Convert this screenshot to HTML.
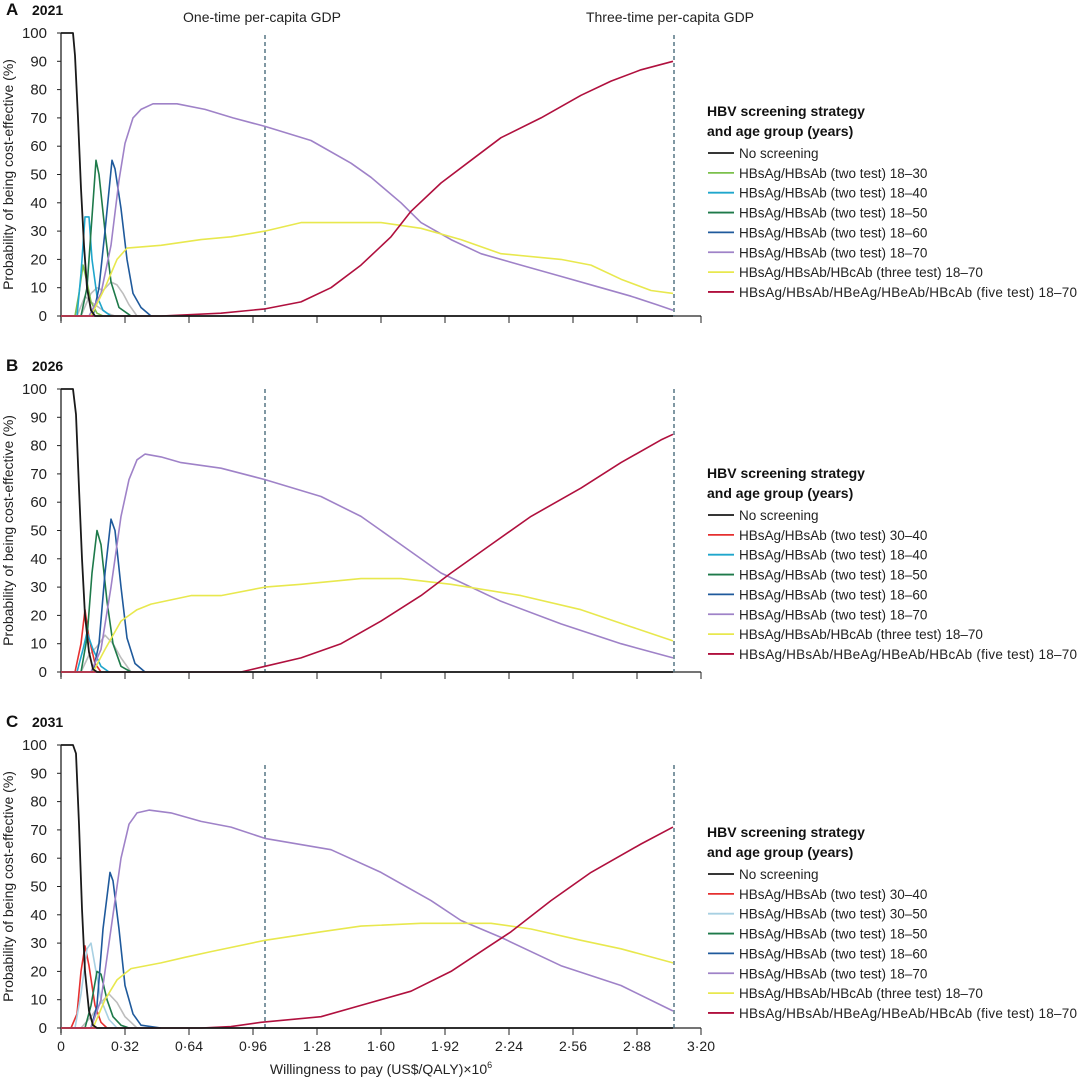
<!DOCTYPE html>
<html><head><meta charset="utf-8"><style>
html,body{margin:0;padding:0;background:#fff;}
svg{display:block;font-family:"Liberation Sans",sans-serif;}
</style></head><body>
<svg id="chart" width="1080" height="1080" viewBox="0 0 1080 1080" xmlns="http://www.w3.org/2000/svg"></svg>
<script>
// ---- data ----
const yTicks = [0,10,20,30,40,50,60,70,80,90,100];
const xTicks = [0,0.32,0.64,0.96,1.28,1.60,1.92,2.24,2.56,2.88,3.20];
const xTickLabels = ["0","0·32","0·64","0·96","1·28","1·60","1·92","2·24","2·56","2·88","3·20"];
const gdpOne = 1.02, gdpThree = 3.065;
const panelLabels = ["A","B","C"];
const panelYears = ["2021","2026","2031"];

// Panel A
const aNoX=[0,0.06,0.07,0.085,0.1,0.115,0.13,0.15,0.17,3.06], aNoY=[100,100,92,70,45,25,10,2,0,0];
const a1830X=[0,0.07,0.09,0.11,0.13,0.15,0.18,0.21], a1830Y=[0,0,8,18,12,5,1,0];
const a1840X=[0,0.08,0.1,0.12,0.14,0.155,0.18,0.21,0.25], a1840Y=[0,0,15,35,35,20,7,2,0];
const a1850X=[0,0.1,0.13,0.15,0.175,0.19,0.22,0.25,0.29,0.35], a1850Y=[0,0,10,30,55,50,30,12,3,0];
const a1860X=[0,0.16,0.19,0.22,0.255,0.27,0.3,0.33,0.36,0.4,0.45], a1860Y=[0,0,10,30,55,52,38,20,8,3,0];
const a1870X=[0,0.14,0.2,0.25,0.29,0.32,0.36,0.4,0.46,0.58,0.72,0.86,1.02,1.25,1.45,1.55,1.7,1.8,1.95,2.1,2.3,2.5,2.7,2.85,2.98,3.06],
      a1870Y=[0,0,8,25,48,61,70,73,75,75,73,70,67,62,54,49,40,33,27,22,18,14,10,7,4,2];
const aThreeX=[0,0.15,0.22,0.28,0.33,0.5,0.7,0.85,1.02,1.2,1.4,1.6,1.8,2.0,2.2,2.5,2.65,2.8,2.95,3.06],
      aThreeY=[0,0,10,20,24,25,27,28,30,33,33,33,31,27,22,20,18,13,9,8];
const aFiveX=[0,0.5,0.8,1.02,1.2,1.35,1.5,1.65,1.75,1.9,2.05,2.2,2.4,2.6,2.75,2.9,3.06],
      aFiveY=[0,0,1,2.5,5,10,18,28,37,47,55,63,70,78,83,87,90];
const aGrayX=[0,0.1,0.13,0.15,0.18,0.21,0.25,0.28,0.31,0.34,0.38], aGrayY=[0,0,5,8,10,9,12,11,8,4,0];
const aGray2X=[0,0.08,0.12,0.15,0.19,0.23,0.27], aGray2Y=[0,0,7,5,3,1,0];

// Panel B
const bNoX=[0,0.06,0.075,0.09,0.105,0.12,0.14,0.16,0.18,3.06], bNoY=[100,100,91,65,40,20,7,1,0,0];
const b3040X=[0,0.07,0.1,0.12,0.14,0.17,0.2], b3040Y=[0,0,10,22,12,3,0];
const b1840X=[0,0.08,0.11,0.13,0.16,0.2,0.24], b1840Y=[0,0,8,14,8,2,0];
const b1850X=[0,0.1,0.13,0.155,0.18,0.2,0.23,0.26,0.3,0.35], b1850Y=[0,0,12,35,50,45,25,10,2,0];
const b1860X=[0,0.16,0.19,0.22,0.25,0.27,0.3,0.33,0.37,0.42], b1860Y=[0,0,10,35,54,50,30,12,3,0];
const b1870X=[0,0.15,0.2,0.25,0.3,0.34,0.38,0.42,0.5,0.6,0.8,1.02,1.3,1.5,1.7,1.9,2.2,2.5,2.8,3.06],
      b1870Y=[0,0,8,30,55,68,75,77,76,74,72,68,62,55,45,35,25,17,10,5];
const bThreeX=[0,0.16,0.22,0.3,0.38,0.45,0.65,0.8,1.02,1.2,1.5,1.7,1.95,2.3,2.6,2.85,3.06],
      bThreeY=[0,0,8,18,22,24,27,27,30,31,33,33,31,27,22,16,11];
const bFiveX=[0,0.9,1.02,1.2,1.4,1.6,1.8,1.95,2.15,2.35,2.6,2.8,3.0,3.06],
      bFiveY=[0,0,2,5,10,18,27,35,45,55,65,74,82,84];
const bGrayX=[0,0.1,0.14,0.18,0.22,0.26,0.3,0.35], bGrayY=[0,0,6,9,13,10,5,0];

// Panel C
const cNoX=[0,0.06,0.075,0.09,0.105,0.12,0.14,0.16,0.18,3.06], cNoY=[100,100,97,72,42,20,6,1,0,0];
const c3040X=[0,0.05,0.08,0.1,0.12,0.14,0.17,0.2,0.23], c3040Y=[0,0,5,20,29,22,8,2,0];
const c3050X=[0,0.07,0.1,0.13,0.15,0.17,0.2,0.24,0.28], c3050Y=[0,0,12,28,30,22,10,3,0];
const c1850X=[0,0.12,0.15,0.18,0.2,0.23,0.26,0.3,0.34], c1850Y=[0,0,8,20,19,10,4,1,0];
const c1860X=[0,0.15,0.18,0.21,0.245,0.26,0.29,0.32,0.36,0.4,0.5], c1860Y=[0,0,8,35,55,52,35,15,5,1,0];
const c1870X=[0,0.15,0.2,0.25,0.3,0.34,0.38,0.44,0.55,0.7,0.85,1.02,1.35,1.6,1.85,2.0,2.2,2.5,2.8,3.06],
      c1870Y=[0,0,10,35,60,72,76,77,76,73,71,67,63,55,45,38,32,22,15,6];
const cThreeX=[0,0.16,0.22,0.28,0.35,0.5,0.62,0.75,1.02,1.3,1.5,1.8,2.15,2.35,2.6,2.8,3.06],
      cThreeY=[0,0,10,17,21,23,25,27,31,34,36,37,37,35,31,28,23];
const cFiveX=[0,0.7,0.85,1.0,1.3,1.55,1.75,1.95,2.1,2.25,2.45,2.65,2.9,3.06],
      cFiveY=[0,0,0.5,2,4,9,13,20,27,34,45,55,65,71];
const cGrayX=[0,0.1,0.15,0.2,0.24,0.28,0.32,0.38], cGrayY=[0,0,4,9,12,9,4,0];

const C={no:"#1a1a1a",lg:"#7cc04c",cy:"#1fa6cc",gr:"#1e7a4a",bl:"#1f5a9c",pu:"#9f82c8",ye:"#e8e84e",cr:"#b0103e",rd:"#e53030",lb:"#a8d0e2",gy:"#bdbdbd"};

const panels=[
 {top:33,series:[
   ["gray-curve-a1",aGrayX,aGrayY,C.gy,null],["gray-curve-a2",aGray2X,aGray2Y,C.gy,null],
   ["two-test-18-30",a1830X,a1830Y,C.lg,"HBsAg/HBsAb (two test) 18–30"],
   ["two-test-18-40",a1840X,a1840Y,C.cy,"HBsAg/HBsAb (two test) 18–40"],
   ["two-test-18-50",a1850X,a1850Y,C.gr,"HBsAg/HBsAb (two test) 18–50"],
   ["two-test-18-60",a1860X,a1860Y,C.bl,"HBsAg/HBsAb (two test) 18–60"],
   ["two-test-18-70",a1870X,a1870Y,C.pu,"HBsAg/HBsAb (two test) 18–70"],
   ["three-test-18-70",aThreeX,aThreeY,C.ye,"HBsAg/HBsAb/HBcAb (three test) 18–70"],
   ["five-test-18-70",aFiveX,aFiveY,C.cr,"HBsAg/HBsAb/HBeAg/HBeAb/HBcAb (five test) 18–70"],
   ["no-screening",aNoX,aNoY,C.no,"No screening"]],legTop:111,dashTop:35},
 {top:389,series:[
   ["gray-curve-b",bGrayX,bGrayY,C.gy,null],
   ["two-test-30-40",b3040X,b3040Y,C.rd,"HBsAg/HBsAb (two test) 30–40"],
   ["two-test-18-40",b1840X,b1840Y,C.cy,"HBsAg/HBsAb (two test) 18–40"],
   ["two-test-18-50",b1850X,b1850Y,C.gr,"HBsAg/HBsAb (two test) 18–50"],
   ["two-test-18-60",b1860X,b1860Y,C.bl,"HBsAg/HBsAb (two test) 18–60"],
   ["two-test-18-70",b1870X,b1870Y,C.pu,"HBsAg/HBsAb (two test) 18–70"],
   ["three-test-18-70",bThreeX,bThreeY,C.ye,"HBsAg/HBsAb/HBcAb (three test) 18–70"],
   ["five-test-18-70",bFiveX,bFiveY,C.cr,"HBsAg/HBsAb/HBeAg/HBeAb/HBcAb (five test) 18–70"],
   ["no-screening",bNoX,bNoY,C.no,"No screening"]],legTop:473,dashTop:389},
 {top:745,series:[
   ["gray-curve-c",cGrayX,cGrayY,C.gy,null],
   ["two-test-30-40",c3040X,c3040Y,C.rd,"HBsAg/HBsAb (two test) 30–40"],
   ["two-test-30-50",c3050X,c3050Y,C.lb,"HBsAg/HBsAb (two test) 30–50"],
   ["two-test-18-50",c1850X,c1850Y,C.gr,"HBsAg/HBsAb (two test) 18–50"],
   ["two-test-18-60",c1860X,c1860Y,C.bl,"HBsAg/HBsAb (two test) 18–60"],
   ["two-test-18-70",c1870X,c1870Y,C.pu,"HBsAg/HBsAb (two test) 18–70"],
   ["three-test-18-70",cThreeX,cThreeY,C.ye,"HBsAg/HBsAb/HBcAb (three test) 18–70"],
   ["five-test-18-70",cFiveX,cFiveY,C.cr,"HBsAg/HBsAb/HBeAg/HBeAb/HBcAb (five test) 18–70"],
   ["no-screening",cNoX,cNoY,C.no,"No screening"]],legTop:832,dashTop:765}
];

const NS="http://www.w3.org/2000/svg";
const svg=document.getElementById('chart');
function mk(tag,attrs,parent,text){const e=document.createElementNS(NS,tag);for(const k in attrs)e.setAttribute(k,attrs[k]);if(text!==undefined)e.textContent=text;(parent||svg).appendChild(e);return e;}
const X0=61, XS=200;
const xS=v=>X0+v*XS;
const H=283;

panels.forEach((p,pi)=>{
  const g=mk('g',{});
  
  
  const yS=v=>p.top+H-v*H/100;
  const base=p.top+H;
  const lab=mk('text',{x:6,y:p.top-18,'font-size':17,'font-weight':'bold',fill:'#111'},g,panelLabels[pi]);
  
  
  const yr=mk('text',{x:32,y:p.top-18,'font-size':14,'font-weight':'bold',fill:'#111'},g,panelYears[pi]);
  
  
  // axes
  const ya=mk('line',{x1:X0,y1:p.top,x2:X0,y2:base+5,stroke:'#222','stroke-width':1.3},g);
  
  
  const xa=mk('line',{x1:X0,y1:base,x2:xS(3.2),y2:base,stroke:'#222','stroke-width':1.3},g);
  
  
  yTicks.forEach(t=>{
    mk('line',{x1:X0-4,y1:yS(t),x2:X0,y2:yS(t),stroke:'#222'},g);
    const tl=mk('text',{x:X0-14,y:yS(t)+5,'font-size':15,'text-anchor':'end',fill:'#222'},g,String(t));
    
    
  });
  xTicks.forEach((t,i)=>{
    mk('line',{x1:xS(t),y1:base,x2:xS(t),y2:base+7,stroke:'#222'},g);
    if(pi===2){
      const tl=mk('text',{x:xS(t),y:base+23,'font-size':14,'text-anchor':'middle',fill:'#222'},g,xTickLabels[i]);
      
      
    }
  });
  const yt=mk('text',{x:0,y:0,'font-size':14,'text-anchor':'middle',fill:'#222',transform:`translate(13,${p.top+H/2}) rotate(-90)`},g,'Probability of being cost-effective (%)');
  
  
  // gdp lines
  [gdpOne,gdpThree].forEach((v,i)=>{
    const d=mk('line',{x1:xS(v),y1:p.dashTop,x2:xS(v),y2:base,stroke:'#4a6c7c','stroke-width':1.4,'stroke-dasharray':'4,3'},g);
    
    
  });
  // series
  p.series.forEach(s=>{
    const [nm,xs,ys,col]=s;
    const pts=xs.map((x,i)=>xS(x).toFixed(1)+','+yS(ys[i]).toFixed(1)).join(' ');
    const pl=mk('polyline',{points:pts,fill:'none',stroke:col,'stroke-width':nm==='no-screening'?1.8:1.6,'stroke-linejoin':'round'},g);
    
    
  });
  // legend
  const lg=mk('g',{},g);
  
  
  mk('text',{x:707,y:p.legTop+5,'font-size':14,'font-weight':'bold',fill:'#111'},lg,'HBV screening strategy');
  mk('text',{x:707,y:p.legTop+25,'font-size':14,'font-weight':'bold',fill:'#111'},lg,'and age group (years)');
  const order=['no-screening'].concat(p.series.filter(s=>s[4]&&s[0]!=='no-screening').map(s=>s[0]));
  order.forEach((nm,i)=>{
    const s=p.series.find(q=>q[0]===nm);
    const y=p.legTop+42+i*19.85;
    const e=mk('g',{},lg);
    
    
    mk('line',{x1:708,y1:y,x2:734,y2:y,stroke:s[3],'stroke-width':1.8},e);
    const t=mk('text',{x:739,y:y+5,'font-size':13.5,fill:'#222'},e,s[4]);
    if(s[4].length>40)t.setAttribute('textLength','338');
  });
});
// top annotations
const a1=mk('text',{x:xS(gdpOne)-3,y:22,'font-size':14,'text-anchor':'middle',fill:'#222'},svg,'One-time per-capita GDP');


const a3=mk('text',{x:xS(gdpThree)-4,y:22,'font-size':14,'text-anchor':'middle',fill:'#222'},svg,'Three-time per-capita GDP');


const xt=mk('text',{x:381,y:1074,'font-size':14,'text-anchor':'middle',fill:'#222'},svg,'Willingness to pay (US$/QALY)×10');


mk('tspan',{'font-size':9,dy:-6},xt,'6');
</script>
</body></html>
